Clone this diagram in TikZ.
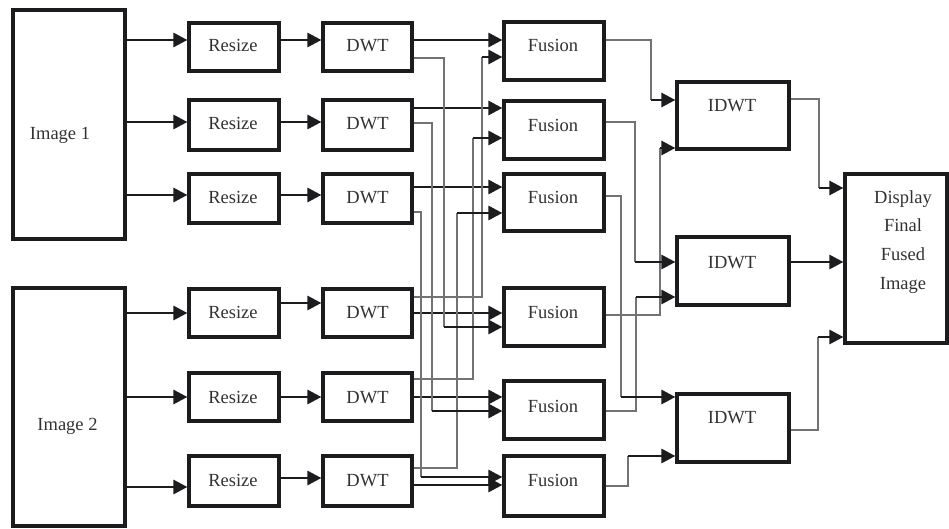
\documentclass[tikz,border=0pt]{standalone}
\usepackage{fontspec}
\setmainfont{Liberation Serif}
\usetikzlibrary{arrows.meta}
\definecolor{boxc}{RGB}{28,28,30}
\definecolor{thinc}{RGB}{115,115,115}
\definecolor{txtc}{RGB}{50,50,50}
\tikzset{
  blk/.style={draw=boxc, line width=3.2pt, rectangle, inner sep=0pt, outer sep=1.6pt, fill=white},
  lbl/.style={text=txtc, font=\fontsize{18.5}{20}\selectfont, anchor=base, inner sep=0pt},
  arr/.style={draw=boxc, line width=2.8pt, -{Triangle[length=14pt,width=14pt]}},
  wire/.style={draw=thinc, line width=1.1pt},
}
\begin{document}
\begin{tikzpicture}[x=1pt,y=-1pt]
\useasboundingbox[fill=white] (0,0) rectangle (949,529);
% input images
\node[blk, minimum width=112pt, minimum height=229pt] (img1) at (69,124.5) {};
\node[blk, minimum width=112pt, minimum height=238pt] (img2) at (69,407) {};
% resize
\node[blk, minimum width=90pt, minimum height=48pt] (r1) at (234,47) {};
\node[blk, minimum width=90pt, minimum height=50pt] (r2) at (234,125) {};
\node[blk, minimum width=90pt, minimum height=49pt] (r3) at (234,198.5) {};
\node[blk, minimum width=90pt, minimum height=48pt] (r4) at (234,313) {};
\node[blk, minimum width=90pt, minimum height=48pt] (r5) at (234,397) {};
\node[blk, minimum width=90pt, minimum height=50pt] (r6) at (234,481) {};
% dwt
\node[blk, minimum width=89pt, minimum height=48pt] (d1) at (367.5,47) {};
\node[blk, minimum width=89pt, minimum height=50pt] (d2) at (367.5,125) {};
\node[blk, minimum width=89pt, minimum height=49pt] (d3) at (367.5,198.5) {};
\node[blk, minimum width=89pt, minimum height=48pt] (d4) at (367.5,313) {};
\node[blk, minimum width=89pt, minimum height=48pt] (d5) at (367.5,397) {};
\node[blk, minimum width=89pt, minimum height=50pt] (d6) at (367.5,481) {};
% fusion
\node[blk, minimum width=100pt, minimum height=58pt] (f1) at (554,51) {};
\node[blk, minimum width=100pt, minimum height=58pt] (f2) at (554,130) {};
\node[blk, minimum width=100pt, minimum height=57pt] (f3) at (554,202.5) {};
\node[blk, minimum width=100pt, minimum height=58pt] (f4) at (554,317) {};
\node[blk, minimum width=100pt, minimum height=58pt] (f5) at (554,410) {};
\node[blk, minimum width=100pt, minimum height=60pt] (f6) at (554,486) {};
% idwt
\node[blk, minimum width=112pt, minimum height=67pt] (i1) at (733,115.5) {};
\node[blk, minimum width=112pt, minimum height=68pt] (i2) at (733,271) {};
\node[blk, minimum width=112pt, minimum height=68pt] (i3) at (733,428) {};
% display
\node[blk, minimum width=102pt, minimum height=169pt] (disp) at (896,258.5) {};

% texts
\node[lbl] (timg1) at (60,140) {Image 1};
\node[lbl] (timg2) at (67.5,430) {Image 2};
\node[lbl] (tr1) at (233,51.5) {Resize};
\node[lbl] (tr2) at (233,129.5) {Resize};
\node[lbl] (tr3) at (233,203.5) {Resize};
\node[lbl] (tr4) at (233,318.5) {Resize};
\node[lbl] (tr5) at (233,403.5) {Resize};
\node[lbl] (tr6) at (233,486.5) {Resize};
\node[lbl] (td1) at (367.5,51.5) {DWT};
\node[lbl] (td2) at (367.5,129.5) {DWT};
\node[lbl] (td3) at (367.5,203.5) {DWT};
\node[lbl] (td4) at (367.5,318.5) {DWT};
\node[lbl] (td5) at (367.5,403.5) {DWT};
\node[lbl] (td6) at (367.5,486.5) {DWT};
\node[lbl] (tf1) at (553,51.5) {Fusion};
\node[lbl] (tf2) at (553,131.5) {Fusion};
\node[lbl] (tf3) at (553,203.5) {Fusion};
\node[lbl] (tf4) at (553,318.5) {Fusion};
\node[lbl] (tf5) at (553,412.5) {Fusion};
\node[lbl] (tf6) at (553,486.5) {Fusion};
\node[lbl] (ti1) at (732,111.5) {IDWT};
\node[lbl] (ti2) at (732,268.5) {IDWT};
\node[lbl] (ti3) at (732,423.5) {IDWT};
\node[lbl] (tdisp1) at (903,204) {Display};
\node[lbl] (tdisp2) at (903,232) {Final};
\node[lbl] (tdisp3) at (903,260) {Fused};
\node[lbl] (tdisp4) at (903,289) {Image};

% image -> resize
\draw[arr] (img1.east |- 0,40) -- (r1.west |- 0,40);
\draw[arr] (img1.east |- 0,122) -- (r2.west |- 0,122);
\draw[arr] (img1.east |- 0,195) -- (r3.west |- 0,195);
\draw[arr] (img2.east |- 0,313) -- (r4.west |- 0,313);
\draw[arr] (img2.east |- 0,397) -- (r5.west |- 0,397);
\draw[arr] (img2.east |- 0,487) -- (r6.west |- 0,487);
% resize -> dwt
\draw[arr] (r1.east |- 0,40) -- (d1.west |- 0,40);
\draw[arr] (r2.east |- 0,122) -- (d2.west |- 0,122);
\draw[arr] (r3.east |- 0,195) -- (d3.west |- 0,195);
\draw[arr] (r4.east |- 0,303) -- (d4.west |- 0,303);
\draw[arr] (r5.east |- 0,397) -- (d5.west |- 0,397);
\draw[arr] (r6.east |- 0,478) -- (d6.west |- 0,478);
% dwt -> fusion (direct)
\draw[arr] (d1.east |- 0,40) -- (f1.west |- 0,40);
\draw[arr] (d2.east |- 0,108) -- (f2.west |- 0,108);
\draw[arr] (d3.east |- 0,187) -- (f3.west |- 0,187);
\draw[arr] (d4.east |- 0,313) -- (f4.west |- 0,313);
\draw[arr] (d5.east |- 0,397) -- (f5.west |- 0,397);
\draw[arr] (d6.east |- 0,485) -- (f6.west |- 0,485);
% dwt -> fusion (crossing)
\coordinate (k1) at (444,327);
\coordinate (k2) at (432,411);
\coordinate (k3) at (421,477);
\coordinate (k4) at (482,57);
\coordinate (k5) at (473,138);
\coordinate (k6) at (457,213);
\draw[wire] (d1.east |- 0,58) -| (k1);
\draw[wire] (d2.east |- 0,123) -| (k2);
\draw[wire] (d3.east |- 0,212) -| (k3);
\draw[wire] (d4.east |- 0,297) -| (k4);
\draw[wire] (d5.east |- 0,379) -| (k5);
\draw[wire] (d6.east |- 0,468) -| (k6);
\draw[arr] (k1) -- (f4.west |- k1);
\draw[arr] (k2) -- (f5.west |- k2);
\draw[arr] (k3) -- (f6.west |- k3);
\draw[arr] (k4) -- (f1.west |- k4);
\draw[arr] (k5) -- (f2.west |- k5);
\draw[arr] (k6) -- (f3.west |- k6);
% fusion -> idwt
\coordinate (m1) at (651,100);
\coordinate (m2) at (635,262);
\coordinate (m3) at (621,397);
\coordinate (m4) at (660,148);
\coordinate (m5) at (636,297);
\coordinate (m6) at (628,456);
\draw[wire] (f1.east |- 0,40) -| (m1);
\draw[wire] (f2.east |- 0,122) -| (m2);
\draw[wire] (f3.east |- 0,196) -| (m3);
\draw[wire] (f4.east |- 0,315) -| (m4);
\draw[wire] (f5.east |- 0,411) -| (m5);
\draw[wire] (f6.east |- 0,486) -| (m6);
\draw[arr] (m1) -- (i1.west |- m1);
\draw[arr] (m2) -- (i2.west |- m2);
\draw[arr] (m3) -- (i3.west |- m3);
\draw[arr] (m4) -- (i1.west |- m4);
\draw[arr] (m5) -- (i2.west |- m5);
\draw[arr] (m6) -- (i3.west |- m6);
% idwt -> display
\coordinate (n1) at (819,188);
\coordinate (n3) at (818,337);
\draw[wire] (i1.east |- 0,99) -| (n1);
\draw[wire] (i3.east |- 0,430) -| (n3);
\draw[arr] (n1) -- (disp.west |- n1);
\draw[arr] (i2.east |- 0,262) -- (disp.west |- 0,262);
\draw[arr] (n3) -- (disp.west |- n3);
\end{tikzpicture}
\end{document}
